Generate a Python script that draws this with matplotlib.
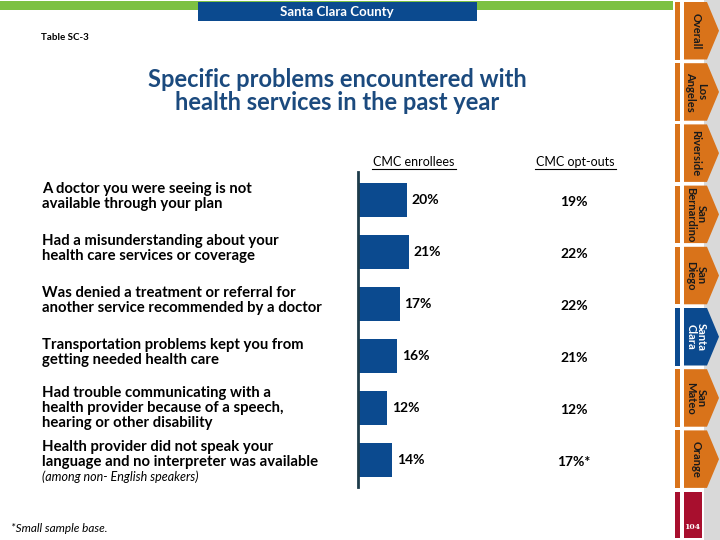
import matplotlib
matplotlib.use("Agg")
import matplotlib.pyplot as plt
from matplotlib.patches import Rectangle, Polygon
import matplotlib.transforms as mtrans

plt.rcParams['font.family'] = ['Lato', 'DejaVu Sans']

# ---- data ----
problems = [
    "A doctor you were seeing is not\navailable through your plan",
    "Had a misunderstanding about your\nhealth care services or coverage",
    "Was denied a treatment or referral for\nanother service recommended by a doctor",
    "Transportation problems kept you from\ngetting needed health care",
    "Had trouble communicating with a\nhealth provider because of a speech,\nhearing or other disability",
    "Health provider did not speak your\nlanguage and no interpreter was available",
]
enrollees = [20, 21, 17, 16, 12, 14]
optouts = [19, 22, 22, 21, 12, 17]
optout_labels = ["19%", "22%", "22%", "21%", "12%", "17%*"]
tabs = ["Overall", "Los\nAngeles", "Riverside", "San\nBernardino", "San\nDiego",
        "Santa\nClara", "San\nMateo", "Orange"]
active_tab = "Santa\nClara"

W, H = 720, 540
BLUE = "#0B4A8F"
ORANGE = "#D9731A"
GREEN = "#7DC142"
RED = "#A80F2E"
NAVY = "#1B4A7E"

fig = plt.figure(figsize=(7.2, 5.4), dpi=100)
bg = fig.add_axes([0, 0, 1, 1])
bg.set_xlim(0, W)
bg.set_ylim(H, 0)
bg.axis("off")

# header
bg.add_patch(Rectangle((0, 1), 673, 8.5, color=GREEN, lw=0))
bg.add_patch(Rectangle((198, 1.5), 279, 19.5, color=BLUE, lw=0))
bg.text(337, 12, "Santa Clara County", color="white", fontsize=9.5,
        fontweight="bold", ha="center", va="center")
bg.text(41, 37.5, "Table SC-3", fontsize=7, fontweight="bold", va="center")

# title
bg.text(337, 91, "Specific problems encountered with\nhealth services in the past year",
        color=NAVY, fontsize=17, fontweight="bold", ha="center", va="center",
        linespacing=1.05)

# right side tabs
bg.add_patch(Rectangle((704, 0), 16, 540, color="#D9D9D9", lw=0))
pitch, th, top0 = 61.2, 57.5, 2
for i, name in enumerate(tabs):
    y0 = top0 + i * pitch
    col = BLUE if name == active_tab else ORANGE
    bg.add_patch(Rectangle((675, y0), 4.5, th, color=col, lw=0))
    bg.add_patch(Polygon([(684, y0), (707, y0), (719, y0 + th * 0.5),
                          (707, y0 + th), (684, y0 + th)], closed=True,
                         color=col, lw=0))
    bg.text(696, y0 + th / 2, name, rotation=-90, ha="center", va="center",
            fontsize=8, fontweight="bold",
            color="white" if name == active_tab else "#1a1a1a",
            linespacing=0.95)
yr = top0 + len(tabs) * pitch
bg.add_patch(Rectangle((675, yr), 4.5, 540 - yr - 2, color=RED, lw=0))
bg.add_patch(Rectangle((684, yr), 17.5, 540 - yr - 2, color=RED, lw=0))
bg.text(692.5, 527, "104", color="white", fontsize=5.5, ha="center",
        va="center", family="DejaVu Serif", fontweight="bold")

# footer
bg.text(11, 528, "*Small sample base.", fontsize=8.5, style="italic", va="center")

# ---- bar axes ----
x0, x1 = 358, 670
ytop, ybot = 172, 487
ax = fig.add_axes([x0 / W, 1 - ybot / H, (x1 - x0) / W, (ybot - ytop) / H])
pxper = 2.45
ax.set_xlim(0, (x1 - x0) / pxper)
c0, step = 200, 52
ax.set_ylim((ybot - c0) / step, (ytop - c0) / step)
ypos = list(range(len(problems)))
ax.barh(ypos, enrollees, height=0.65, color=BLUE, zorder=2)
for s in ["top", "right", "bottom"]:
    ax.spines[s].set_visible(False)
ax.spines["left"].set_color("#1d3b4a")
ax.spines["left"].set_linewidth(2)
ax.set_xticks([])
ax.set_yticks([])
ax.patch.set_alpha(0)

for y, v in zip(ypos, enrollees):
    ax.text(v + 1.8, y, f"{v}%", fontsize=10, fontweight="bold", va="center")
optx = (574 - x0) / (x1 - x0)
for y, lab in zip(ypos, optout_labels):
    ax.text(optx, y + 0.03, lab, fontsize=10, fontweight="bold", va="center",
            ha="center", transform=ax.get_yaxis_transform())

# column headers
bg.text(414, 162, "CMC enrollees", fontsize=9, ha="center", va="center")
bg.plot([372, 456], [169, 169], color="black", lw=0.8)
bg.text(575, 162, "CMC opt-outs", fontsize=9, ha="center", va="center")
bg.plot([535, 616], [169, 169], color="black", lw=0.8)

# problem labels
tr = mtrans.blended_transform_factory(bg.transData, ax.transData)
for y, lab in zip(ypos, problems):
    dy = -0.06 if lab.count("\n") < 2 else 0.0
    if y == len(problems) - 1:
        dy = -0.11
    ax.text(42, y + dy, lab, transform=tr, fontsize=10.7, fontweight="bold",
            va="center", ha="left", linespacing=1.1)
bg.text(42, 477, "(among non- English speakers)", fontsize=9, style="italic",
        va="center")

fig.savefig("out.png", dpi=100)
